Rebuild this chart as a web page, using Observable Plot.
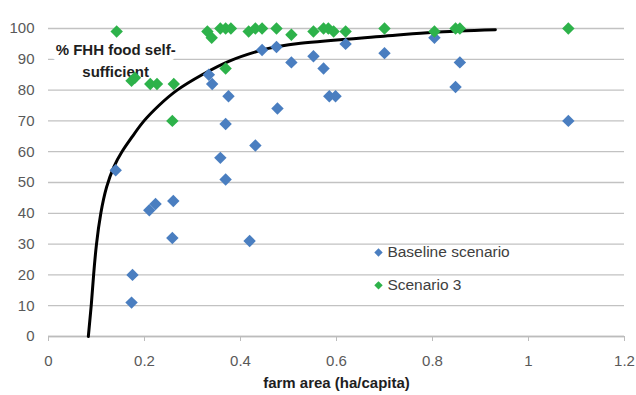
<!DOCTYPE html>
<html>
<head>
<meta charset="utf-8">
<script src="https://cdn.jsdelivr.net/npm/d3@7"></script>
<script src="https://cdn.jsdelivr.net/npm/@observablehq/plot@0.6"></script>
<style>
  html, body { margin: 0; padding: 0; background: #fff; }
  #chart svg { display: block; }
</style>
</head>
<body>
<div id="chart"></div>
<script>
// Baseline scenario (blue)
const baselineX = [0.14, 0.173, 0.175, 0.21, 0.223, 0.258, 0.26, 0.334, 0.341, 0.358, 0.369, 0.369, 0.375, 0.419, 0.431, 0.445, 0.475, 0.477, 0.506, 0.552, 0.573, 0.585, 0.598, 0.619, 0.70, 0.804, 0.848, 0.857, 1.083];
const baselineY = [54, 11, 20, 41, 43, 32, 44, 85, 82, 58, 51, 69, 78, 31, 62, 93, 94, 74, 89, 91, 87, 78, 78, 95, 92, 97, 81, 89, 70];

// Scenario 3 (green)
const scen3X = [0.142, 0.173, 0.18, 0.212, 0.226, 0.258, 0.261, 0.331, 0.34, 0.358, 0.369, 0.38, 0.369, 0.417, 0.431, 0.445, 0.475, 0.506, 0.552, 0.573, 0.583, 0.594, 0.619, 0.70, 0.804, 0.848, 0.857, 1.083];
const scen3Y = [99, 83, 84, 82, 82, 70, 82, 99, 97, 100, 100, 100, 87, 99, 100, 100, 100, 98, 99, 100, 100, 99, 99, 100, 99, 100, 100, 100];

// Fitted curve (black)
const curveX = [0.083, 0.089, 0.094, 0.100, 0.109, 0.121, 0.136, 0.153, 0.175, 0.199, 0.23, 0.268, 0.32, 0.378, 0.44, 0.525, 0.698, 0.802, 0.931];
const curveY = [0, 10, 20, 30, 40, 48.5, 55, 60, 65, 70, 75, 80, 85, 89.5, 92.8, 95.2, 97.5, 98.8, 99.6];

const xTicks = [0, 0.2, 0.4, 0.6, 0.8, 1, 1.2];
const xTickLabels = ["0", "0.2", "0.4", "0.6", "0.8", "1", "1.2"];
const yTicks = [0, 10, 20, 30, 40, 50, 60, 70, 80, 90, 100];

const seriesNames = ["Baseline scenario", "Scenario 3"];
const seriesColors = ["#4a7ec0", "#2db24a"];
const xTitle = "farm area (ha/capita)";
const annotation = "% FHH food self-\nsufficient";

// layout constants (not data)
const annotX = 0.14, annotY = 90;
const legendX = 0.6875, legendTextX = 0.706, legendY = [27.3, 16.6];

const baseline = baselineX.map((x, i) => ({x, y: baselineY[i]}));
const scen3 = scen3X.map((x, i) => ({x, y: scen3Y[i]}));
const curve = curveX.map((x, i) => ({x, y: curveY[i]}));
const legend = seriesNames.map((name, i) => ({name, color: seriesColors[i], y: legendY[i]}));

const chart = Plot.plot({
  width: 636,
  height: 395,
  marginLeft: 48,
  marginRight: 12,
  marginTop: 28,
  marginBottom: 59,
  x: {domain: [0, 1.2]},
  y: {domain: [0, 100]},
  style: {fontFamily: "'Liberation Sans', Arial, sans-serif", fontSize: "15px", color: "#595959", background: "#fff"},
  marks: [
    Plot.gridY(yTicks, {stroke: "#c2c2c2", strokeOpacity: 1, strokeWidth: 1.3}),
    Plot.ruleY([0], {stroke: "#bcbcbc", strokeWidth: 1.3}),
    Plot.axisX(xTicks, {
      tickFormat: d => xTickLabels[xTicks.indexOf(d)],
      tickSize: 5, tickPadding: 14, stroke: "#bcbcbc", label: null, fill: "#595959"
    }),
    Plot.axisY(yTicks, {tickSize: 0, tickPadding: 14, label: null, fill: "#595959"}),
    Plot.text([xTitle], {frameAnchor: "bottom", dy: 47, lineAnchor: "middle", fontWeight: "bold", fill: "#1e1e1e", fontSize: 15}),
    Plot.text([annotation], {x: annotX, y: annotY, text: d => d, lineAnchor: "middle", textAnchor: "middle", lineHeight: 1.45, fontWeight: "bold", fontSize: 15, fill: "#1e1e1e", stroke: "white", strokeWidth: 12, strokeLinejoin: "round"}),
    Plot.line(curve, {x: "x", y: "y", curve: "natural", stroke: "black", strokeWidth: 3}),
    Plot.dot(baseline, {x: "x", y: "y", symbol: "diamond2", r: 5.6, fill: seriesColors[0], stroke: null}),
    Plot.dot(scen3, {x: "x", y: "y", symbol: "diamond2", r: 5.6, fill: seriesColors[1], stroke: null}),
    Plot.dot(legend, {x: () => legendX, y: "y", symbol: "diamond2", r: 3.8, fill: "color", stroke: null}),
    Plot.text(legend, {x: () => legendTextX, y: "y", text: "name", textAnchor: "start", lineAnchor: "middle", fill: "#404040", fontSize: 15.5})
  ]
});
document.getElementById("chart").append(chart);
</script>
</body>
</html>
